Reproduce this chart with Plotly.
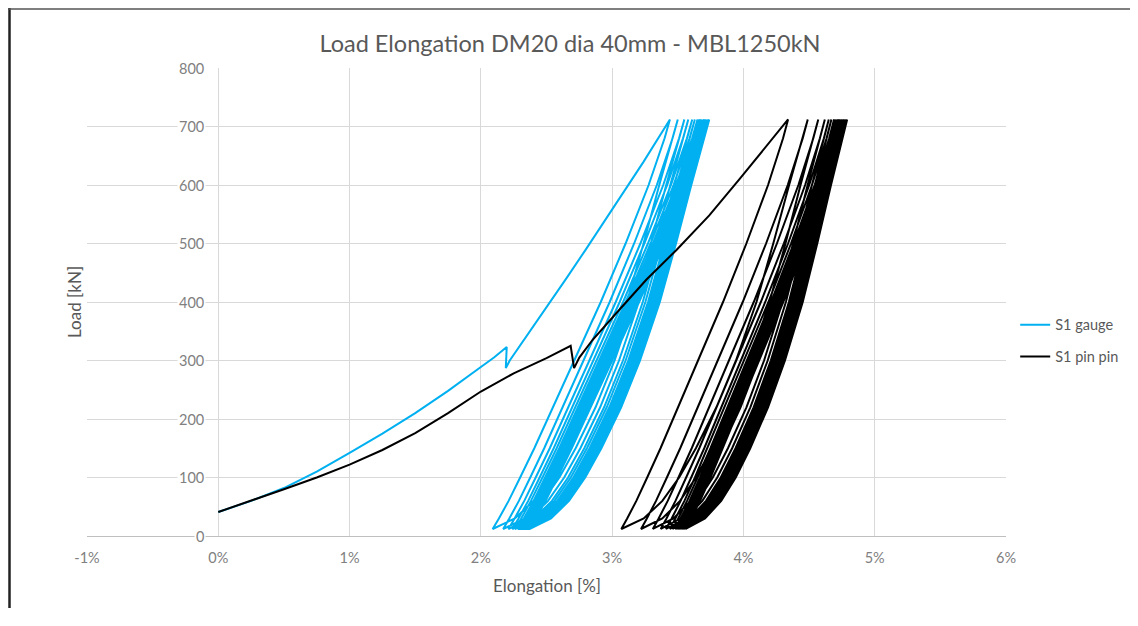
import plotly.graph_objects as go

# ---------------- data ----------------
# first (virgin) loading path, elongation [%] and load [kN]
gauge_first_x = [0.00, 0.25, 0.50, 0.75, 1.00, 1.25, 1.50, 1.75, 2.00, 2.10, 2.197, 2.19, 2.22, 2.40, 2.65, 2.80, 3.06, 3.24, 3.44]
gauge_first_y = [41, 60, 82, 110, 142, 175, 210, 248, 289, 305, 323, 287, 300, 358, 440, 490, 578, 640, 712]

pin_first_x = [0.00, 0.25, 0.50, 0.75, 1.00, 1.25, 1.50, 1.75, 2.00, 2.25, 2.50, 2.684, 2.71, 2.75, 2.85, 3.06, 3.26, 3.49, 3.74, 3.97, 4.15, 4.34]
pin_first_y = [41, 60, 80, 100, 122, 147, 176, 210, 247, 278, 304, 325, 287, 305, 335, 388, 438, 489, 548, 610, 660, 712]

# cyclic part: minimum-load tip elongation and maximum-load top elongation per cycle
gauge_tips = [2.09, 2.17, 2.21, 2.24, 2.26, 2.28, 2.29, 2.30, 2.31, 2.32, 2.33, 2.33, 2.34, 2.34, 2.35, 2.35, 2.36, 2.36, 2.36, 2.37]
gauge_tops = [3.50, 3.55, 3.58, 3.61, 3.63, 3.65, 3.66, 3.67, 3.68, 3.69, 3.70, 3.70, 3.71, 3.71, 3.72, 3.72, 3.73, 3.73, 3.74, 3.74]

pin_tips = [3.07, 3.22, 3.31, 3.37, 3.41, 3.44, 3.46, 3.48, 3.49, 3.50, 3.51, 3.52, 3.52, 3.53, 3.53, 3.54, 3.54, 3.55, 3.55, 3.56]
pin_tops = [4.49, 4.57, 4.62, 4.65, 4.67, 4.69, 4.70, 4.71, 4.72, 4.73, 4.74, 4.75, 4.75, 4.76, 4.76, 4.77, 4.77, 4.78, 4.78, 4.79]

# hysteresis loop shape: load levels and the relative
# position (0 = tip, 1 = top) of the unloading and reloading branches
loop_loads = [12, 30, 60, 100, 150, 220, 300, 400, 500, 600, 680, 712]
unload_shape = [0.0, 0.035, 0.09, 0.155, 0.235, 0.34, 0.46, 0.61, 0.75, 0.88, 0.97, 1.0]
reload_shape = [0.0, 0.12, 0.22, 0.31, 0.40, 0.51, 0.615, 0.725, 0.815, 0.90, 0.97, 1.0]

x_ticks = [-1, 0, 1, 2, 3, 4, 5, 6]
y_ticks = [0, 100, 200, 300, 400, 500, 600, 700, 800]


def build(first_x, first_y, tips, tops):
    xs, ys = list(first_x), list(first_y)
    prev_top = first_x[-1]
    for tip, top in zip(tips, tops):
        for L, g in zip(reversed(loop_loads), reversed(unload_shape)):
            xs.append(tip + (prev_top - tip) * g)
            ys.append(L)
        for L, g in zip(loop_loads[1:], reload_shape[1:]):
            xs.append(tip + (top - tip) * g)
            ys.append(L)
        prev_top = top
    return xs, ys


gx, gy = build(gauge_first_x, gauge_first_y, gauge_tips, gauge_tops)
px, py = build(pin_first_x, pin_first_y, pin_tips, pin_tops)

FONT = "Lato, 'Open Sans', sans-serif"
GRID = "#d9d9d9"
TXT = "#595959"
TICK = "#808080"

fig = go.Figure()
fig.add_trace(go.Scatter(x=gx, y=gy, mode="lines", name="S1 gauge", legendgroup="a",
                         line=dict(color="#00b0f0", width=2)))
fig.add_trace(go.Scatter(x=px, y=py, mode="lines", name="S1 pin pin", legendgroup="b",
                         line=dict(color="#000000", width=2)))

# page is offset by the 8px body margin
OFF = 8
W, H = 1130, 600
L_, T_ = 79, 60
pw, ph = 919, 468
R_, B_ = W - L_ - pw, H - T_ - ph

fig.update_layout(
    width=W, height=H,
    margin=dict(l=L_, r=R_, t=T_, b=B_),
    paper_bgcolor="white", plot_bgcolor="white",
    font=dict(family=FONT, color=TXT),
    title=dict(text="Load Elongation DM20 dia 40mm - MBL1250kN", x=(570 - OFF) / W, xref="container",
               y=1 - (44 - OFF) / H, yanchor="middle", xanchor="center",
               font=dict(size=23.5, color=TXT, family=FONT)),
    xaxis=dict(range=[-1, 6], tickvals=x_ticks, ticktext=[f"{v}%" for v in x_ticks],
               showgrid=True, gridcolor=GRID, gridwidth=1, zeroline=False,
               showline=True, linecolor="#bfbfbf", linewidth=1, mirror=False,
               ticks="", ticklabelstandoff=9,
               tickfont=dict(size=14.5, color=TICK, family=FONT)),
    yaxis=dict(range=[0, 800], tickvals=y_ticks, showticklabels=False,
               showgrid=True, gridcolor=GRID, gridwidth=1, zeroline=False,
               showline=False, ticks=""),
    legend=dict(x=1.01, xanchor="left", y=0.417, yanchor="middle",
                font=dict(size=14.5, color=TXT, family=FONT),
                tracegroupgap=10, traceorder="grouped", bgcolor="rgba(0,0,0,0)"),
    showlegend=True,
)

for v in y_ticks:
    fig.add_annotation(x=0, y=v, xref="x", yref="y", text=str(v), showarrow=False,
                       xanchor="right", yanchor="middle", xshift=-12,
                       bgcolor="white", borderpad=1,
                       font=dict(size=14.5, color=TICK, family=FONT))

fig.add_annotation(x=0.5, y=0, xref="paper", yref="paper", text="Elongation [%]",
                   showarrow=False, yshift=-49, yanchor="middle",
                   font=dict(size=17, color=TXT, family=FONT))
fig.add_annotation(x=0, y=0.5, xref="paper", yref="paper", text="Load [kN]",
                   showarrow=False, xshift=-13, textangle=-90, xanchor="center",
                   font=dict(size=17, color=TXT, family=FONT))


def pxx(v):  # page x pixel -> paper
    return (v - OFF - L_) / pw


def pyy(v):  # page y pixel -> paper
    return (T_ + ph + OFF - v) / ph


fig.add_shape(type="line", xref="paper", yref="paper", x0=pxx(9.5), x1=pxx(9.5), y0=pyy(8), y1=pyy(608),
              line=dict(color="#222222", width=2.5))
fig.add_shape(type="line", xref="paper", yref="paper", x0=pxx(8), x1=pxx(1137), y0=pyy(9), y1=pyy(9),
              line=dict(color="#555555", width=1.5))

fig.write_html("out.html")
